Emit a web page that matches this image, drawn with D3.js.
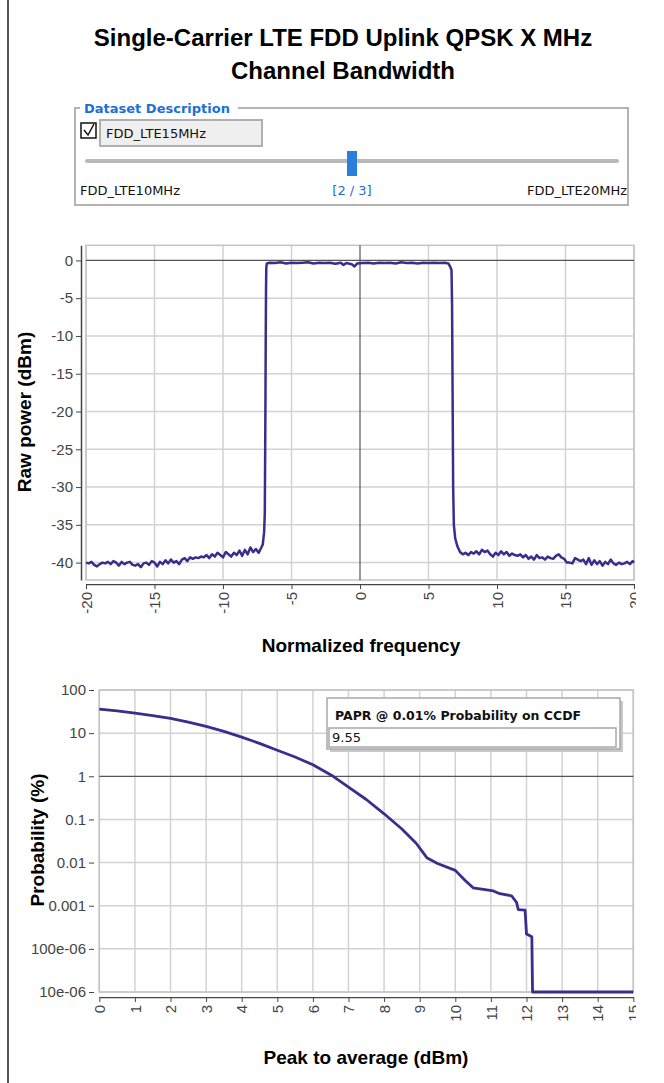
<!DOCTYPE html>
<html>
<head>
<meta charset="utf-8">
<script src="https://cdn.jsdelivr.net/npm/d3@7"></script>
<style>
  body { margin: 0; background: #fff; }
  svg { display: block; }
</style>
</head>
<body>
<div id="view"></div>
<script>
'use strict';

// ---- data ----
var titleLines = ['Single-Carrier LTE FDD Uplink QPSK X MHz', 'Channel Bandwidth']
var datasets = ['FDD_LTE10MHz', 'FDD_LTE15MHz', 'FDD_LTE20MHz']
var currentDataset = 1

var freqTicks = [-20, -15, -10, -5, 0, 5, 10, 15, 20]
var powerTicks = [0, -5, -10, -15, -20, -25, -30, -35, -40]

// spectrum: [normalized frequency, raw power dBm]
var spectrum = [
  [-20, -40.0], [-19.8, -40.1], [-19.6, -39.9], [-19.4, -40.3], [-19.2, -40.5], [-19.0, -40.2],
  [-18.8, -40.0], [-18.6, -40.1], [-18.4, -39.9], [-18.2, -40.2], [-18.0, -39.8], [-17.8, -40.0],
  [-17.6, -40.4], [-17.4, -39.9], [-17.2, -40.2], [-17.0, -40.0], [-16.8, -39.9], [-16.6, -40.3],
  [-16.4, -40.4], [-16.2, -40.2], [-16.0, -40.6], [-15.8, -40.1], [-15.6, -40.0], [-15.4, -40.3],
  [-15.2, -39.8], [-15.0, -40.0], [-14.8, -40.5], [-14.6, -39.9], [-14.4, -40.2], [-14.2, -39.7],
  [-14.0, -40.1], [-13.8, -39.6], [-13.6, -40.0], [-13.4, -39.8], [-13.2, -40.2], [-13.0, -39.6],
  [-12.8, -39.4], [-12.6, -39.8], [-12.4, -39.3], [-12.2, -39.5], [-12.0, -39.3], [-11.8, -39.4],
  [-11.6, -39.2], [-11.4, -39.3], [-11.2, -39.0], [-11.0, -39.4], [-10.8, -38.9], [-10.6, -39.2],
  [-10.4, -38.7], [-10.2, -39.0], [-10.0, -39.3], [-9.8, -38.6], [-9.6, -38.9], [-9.4, -39.2],
  [-9.2, -38.7], [-9.0, -39.0], [-8.8, -38.4], [-8.6, -39.1], [-8.4, -38.3], [-8.2, -38.9],
  [-8.0, -38.0], [-7.8, -38.6], [-7.6, -38.2], [-7.4, -38.7], [-7.2, -38.0], [-7.1, -37.6],
  [-7.0, -36.0], [-6.95, -33.5], [-6.92, -25], [-6.9, -18], [-6.88, -10], [-6.86, -4],
  [-6.84, -1.0], [-6.8, -0.4], [-6.6, -0.3], [-6.2, -0.35], [-5.8, -0.25], [-5.4, -0.4],
  [-5.0, -0.3], [-4.6, -0.35], [-4.2, -0.3], [-3.8, -0.25], [-3.4, -0.4], [-3.0, -0.3],
  [-2.6, -0.35], [-2.2, -0.3], [-1.8, -0.45], [-1.4, -0.3], [-1.2, -0.6], [-1.0, -0.35],
  [-0.6, -0.5], [-0.4, -0.8], [-0.2, -0.4], [0.2, -0.35], [0.6, -0.3], [1.0, -0.4],
  [1.4, -0.3], [1.8, -0.35], [2.2, -0.3], [2.6, -0.4], [3.0, -0.25], [3.4, -0.35],
  [3.8, -0.3], [4.2, -0.4], [4.6, -0.3], [5.0, -0.35], [5.4, -0.3], [5.8, -0.35],
  [6.2, -0.3], [6.45, -0.4], [6.6, -0.9], [6.68, -1.3], [6.72, -6], [6.76, -18],
  [6.8, -30], [6.85, -35], [6.95, -36.8], [7.1, -37.8], [7.3, -38.6], [7.5, -38.9],
  [7.7, -38.7], [7.9, -39.0], [8.1, -38.6], [8.3, -38.8], [8.5, -38.5], [8.7, -38.9],
  [8.9, -38.3], [9.1, -38.6], [9.3, -38.4], [9.5, -38.9], [9.7, -39.2], [9.9, -38.7],
  [10.1, -39.0], [10.3, -38.5], [10.5, -38.9], [10.7, -38.6], [10.9, -39.1], [11.1, -38.8],
  [11.3, -39.0], [11.5, -39.1], [11.7, -38.9], [11.9, -39.3], [12.1, -39.0], [12.3, -39.5],
  [12.5, -39.2], [12.7, -39.6], [12.9, -39.0], [13.1, -39.4], [13.3, -39.3], [13.5, -39.6],
  [13.7, -39.2], [13.9, -39.4], [14.1, -39.5], [14.3, -39.1], [14.5, -38.9], [14.7, -39.3],
  [14.9, -39.5], [15.1, -40.0], [15.3, -40.0], [15.5, -40.1], [15.7, -39.4], [15.9, -39.6],
  [16.1, -39.8], [16.3, -39.6], [16.5, -40.2], [16.7, -39.4], [16.9, -40.3], [17.1, -39.7],
  [17.3, -40.2], [17.5, -39.8], [17.7, -40.4], [17.9, -39.9], [18.1, -40.2], [18.3, -39.6],
  [18.5, -40.1], [18.7, -40.3], [18.9, -40.0], [19.1, -40.2], [19.3, -40.1], [19.5, -39.9],
  [19.7, -40.2], [19.9, -39.8], [20.0, -40.0]
]

var papTicks = [0, 1, 2, 3, 4, 5, 6, 7, 8, 9, 10, 11, 12, 13, 14, 15]
var probTicks = [100, 10, 1, 0.1, 0.01, 0.001, 0.0001, 0.00001]
var probLabels = ['100', '10', '1', '0.1', '0.01', '0.001', '100e-06', '10e-06']

// CCDF: [peak to average dB, probability %]
var ccdf = [
  [0, 36], [0.5, 33], [1, 29], [1.5, 25.5], [2, 22], [2.5, 18], [3, 14.4], [3.5, 11],
  [4, 8.1], [4.5, 5.8], [5, 4.0], [5.5, 2.8], [6, 1.85], [6.57, 1.0], [7, 0.56], [7.5, 0.29],
  [8, 0.135], [8.5, 0.06], [8.9, 0.028], [9.2, 0.013], [9.5, 0.0095], [10, 0.0066],
  [10.27, 0.0039], [10.5, 0.0026], [11.07, 0.0022], [11.25, 0.0019], [11.58, 0.0017],
  [11.72, 0.0012], [11.77, 0.00081], [11.96, 0.00079], [12.0, 0.00022], [12.15, 0.00019],
  [12.17, 0.00001], [15, 0.00001]
]
var paprLabel = 'PAPR @ 0.01% Probability on CCDF'
var paprValue = '9.55'

// ---- drawing ----
var W = 664, H = 1083
var lineColor = '#3b2d8c'
var gridColor = '#d2d2d2'
var uiFont = '"DejaVu Sans", Verdana, sans-serif'
var chartFont = '"Liberation Sans", Arial, sans-serif'

var svg = d3.select('#view').append('svg').attr('width', W).attr('height', H)

svg.append('clipPath').attr('id', 'pageclip')
  .append('rect').attr('x', 0).attr('y', 0).attr('width', 636).attr('height', H)

// left border of the panel
svg.append('line').attr('x1', 8).attr('x2', 8).attr('y1', 0).attr('y2', H)
  .style('stroke', '#555').style('stroke-width', 2)

// title
svg.selectAll('.title').data(titleLines).enter().append('text')
  .attr('class', 'title')
  .attr('x', 343).attr('y', function(d, i) { return 46 + i * 33 })
  .attr('text-anchor', 'middle')
  .style('font-family', chartFont).style('font-weight', 'bold').style('font-size', '24px')
  .text(function(d) { return d })

// dataset description box
var fs = svg.append('g')
fs.append('rect').attr('x', 75).attr('y', 108).attr('width', 553).attr('height', 97)
  .style('fill', 'none').style('stroke', '#b4b4b4').style('stroke-width', 2)
fs.append('rect').attr('x', 80).attr('y', 100).attr('width', 158).attr('height', 16).style('fill', '#fff')
fs.append('text').attr('x', 84).attr('y', 113)
  .style('font-family', uiFont).style('font-weight', 'bold').style('font-size', '13px')
  .style('fill', '#1a6fd8').text('Dataset Description')
fs.append('rect').attr('x', 81).attr('y', 123).attr('width', 15).attr('height', 15)
  .style('fill', '#fff').style('stroke', '#111').style('stroke-width', 1.5)
fs.append('path').attr('d', 'M84,130 L88,135 L94,124')
  .style('fill', 'none').style('stroke', '#111').style('stroke-width', 1.5)
fs.append('rect').attr('x', 100).attr('y', 120).attr('width', 162).attr('height', 26)
  .style('fill', '#efefef').style('stroke', '#b0b0b0').style('stroke-width', 2)
fs.append('text').attr('x', 106).attr('y', 138)
  .style('font-family', uiFont).style('font-size', '13px').style('fill', '#111')
  .text(datasets[currentDataset])

var slider = d3.scaleLinear().domain([0, datasets.length - 1]).range([87, 617])
fs.append('line').attr('x1', slider(0)).attr('x2', slider(datasets.length - 1))
  .attr('y1', 161).attr('y2', 161)
  .style('stroke', '#b9b9b9').style('stroke-width', 4).style('stroke-linecap', 'round')
fs.append('rect').attr('x', slider(currentDataset) - 5).attr('y', 151).attr('width', 10).attr('height', 25)
  .style('fill', '#2a7fdc')
fs.append('text').attr('x', 80).attr('y', 195)
  .style('font-family', uiFont).style('font-size', '13px').style('fill', '#111').text(datasets[0])
fs.append('text').attr('x', 627).attr('y', 195).attr('text-anchor', 'end')
  .style('font-family', uiFont).style('font-size', '13px').style('fill', '#111').text(datasets[2])
fs.append('text').attr('x', slider(currentDataset)).attr('y', 195).attr('text-anchor', 'middle')
  .style('font-family', uiFont).style('font-size', '13px').style('fill', '#1a6fd8')
  .text('[' + (currentDataset + 1) + ' / ' + datasets.length + ']')

function styleAxis(g, size, color) {
  g.selectAll('text').style('font-family', chartFont).style('font-size', size).style('fill', color)
  g.selectAll('line').style('stroke', '#444')
  g.select('.domain').style('stroke', '#444').style('stroke-width', 1.5)
}
var plain = function(d) { return String(d) }

// ---- spectrum chart ----
var x1 = d3.scaleLinear().domain([-20, 20]).range([86, 634])
var y1 = d3.scaleLinear().domain([-42.3, 2]).range([580, 245.3])

var g1 = svg.append('g')
g1.selectAll('.vgrid').data(freqTicks.filter(function(d) { return d !== 0 })).enter().append('line')
  .attr('x1', function(d) { return x1(d) }).attr('x2', function(d) { return x1(d) })
  .attr('y1', y1.range()[1]).attr('y2', y1.range()[0])
  .style('stroke', gridColor).style('stroke-width', 1.5)
g1.selectAll('.hgrid').data(powerTicks.filter(function(d) { return d !== 0 })).enter().append('line')
  .attr('x1', x1.range()[0]).attr('x2', x1.range()[1])
  .attr('y1', function(d) { return y1(d) }).attr('y2', function(d) { return y1(d) })
  .style('stroke', gridColor).style('stroke-width', 1.5)
g1.append('rect').attr('x', x1.range()[0]).attr('y', y1.range()[1])
  .attr('width', x1.range()[1] - x1.range()[0]).attr('height', y1.range()[0] - y1.range()[1])
  .style('fill', 'none').style('stroke', '#c4c4c4').style('stroke-width', 1.5)
g1.append('line').attr('x1', x1(0)).attr('x2', x1(0)).attr('y1', y1.range()[1]).attr('y2', y1.range()[0])
  .style('stroke', '#555').style('stroke-width', 1.2)
g1.append('line').attr('x1', x1.range()[0]).attr('x2', x1.range()[1]).attr('y1', y1(0)).attr('y2', y1(0))
  .style('stroke', '#555').style('stroke-width', 1.2)

g1.append('path').datum(spectrum)
  .attr('d', d3.line().x(function(d) { return x1(d[0]) }).y(function(d) { return y1(d[1]) }))
  .style('fill', 'none').style('stroke', lineColor).style('stroke-width', 2.5)
  .style('stroke-linejoin', 'round')

var ax1 = g1.append('g').attr('transform', 'translate(81,0)')
  .call(d3.axisLeft(y1).tickValues(powerTicks).tickFormat(plain).tickSize(5).tickSizeOuter(0).tickPadding(3))
styleAxis(ax1, '15px', '#444')

var bx1 = g1.append('g').attr('transform', 'translate(0,584)').attr('clip-path', 'url(#pageclip)')
  .call(d3.axisBottom(x1).tickValues(freqTicks).tickFormat(plain).tickSize(5).tickSizeOuter(0))
bx1.selectAll('text').attr('transform', 'rotate(-90)').attr('text-anchor', 'end')
  .attr('x', -8).attr('y', 0).attr('dy', '0.35em')
styleAxis(bx1, '15px', '#444')

svg.append('text').attr('x', 361).attr('y', 652).attr('text-anchor', 'middle')
  .style('font-family', chartFont).style('font-weight', 'bold').style('font-size', '19px')
  .text('Normalized frequency')
svg.append('text').attr('transform', 'translate(31,412) rotate(-90)').attr('text-anchor', 'middle')
  .style('font-family', chartFont).style('font-weight', 'bold').style('font-size', '19px')
  .text('Raw power (dBm)')

// ---- CCDF chart ----
var x2 = d3.scaleLinear().domain([0, 15]).range([99.3, 633.3])
var y2 = d3.scaleLog().domain([1e-5, 100]).range([992, 690])

var g2 = svg.append('g')
g2.selectAll('.vgrid').data(papTicks).enter().append('line')
  .attr('x1', function(d) { return x2(d) }).attr('x2', function(d) { return x2(d) })
  .attr('y1', y2.range()[1]).attr('y2', y2.range()[0])
  .style('stroke', gridColor).style('stroke-width', 1.5)
g2.selectAll('.hgrid').data(probTicks.filter(function(d) { return d !== 1 })).enter().append('line')
  .attr('x1', x2.range()[0]).attr('x2', x2.range()[1])
  .attr('y1', function(d) { return y2(d) }).attr('y2', function(d) { return y2(d) })
  .style('stroke', gridColor).style('stroke-width', 1.5)
g2.append('rect').attr('x', x2.range()[0]).attr('y', y2.range()[1])
  .attr('width', x2.range()[1] - x2.range()[0]).attr('height', y2.range()[0] - y2.range()[1])
  .style('fill', 'none').style('stroke', '#c4c4c4').style('stroke-width', 1.5)
g2.append('line').attr('x1', x2.range()[0]).attr('x2', x2.range()[1]).attr('y1', y2(1)).attr('y2', y2(1))
  .style('stroke', '#555').style('stroke-width', 1.2)

g2.append('path').datum(ccdf)
  .attr('d', d3.line().x(function(d) { return x2(d[0]) }).y(function(d) { return y2(d[1]) }))
  .style('fill', 'none').style('stroke', lineColor).style('stroke-width', 2.8)
  .style('stroke-linejoin', 'round')

var ax2 = g2.append('g').attr('transform', 'translate(94,0)')
  .call(d3.axisLeft(y2).tickValues(probTicks).tickSize(5).tickPadding(3)
    .tickFormat(function(d, i) { return probLabels[i] }))
ax2.select('.domain').remove()
styleAxis(ax2, '15px', '#444')

var bx2 = g2.append('g').attr('transform', 'translate(0,997)').attr('clip-path', 'url(#pageclip)')
  .call(d3.axisBottom(x2).tickValues(papTicks).tickFormat(plain).tickSize(5).tickSizeOuter(0))
bx2.selectAll('text').attr('transform', 'rotate(-90)').attr('text-anchor', 'end')
  .attr('x', -8).attr('y', 0).attr('dy', '0.35em')
styleAxis(bx2, '15px', '#444')

// PAPR readout
var pb = g2.append('g')
pb.append('rect').attr('x', 330).attr('y', 701).attr('width', 293).attr('height', 51).style('fill', '#c8c8c8')
pb.append('rect').attr('x', 327).attr('y', 698).attr('width', 293).attr('height', 51)
  .style('fill', '#fff').style('stroke', '#a8a8a8').style('stroke-width', 1.5)
pb.append('rect').attr('x', 329).attr('y', 728).attr('width', 287).attr('height', 19)
  .style('fill', '#fff').style('stroke', '#a8a8a8').style('stroke-width', 1.5)
pb.append('text').attr('x', 335).attr('y', 720)
  .style('font-family', uiFont).style('font-weight', 'bold').style('font-size', '12.5px').style('fill', '#111')
  .text(paprLabel)
pb.append('text').attr('x', 332).attr('y', 742)
  .style('font-family', uiFont).style('font-size', '13px').style('fill', '#111')
  .text(paprValue)

svg.append('text').attr('x', 366).attr('y', 1064).attr('text-anchor', 'middle')
  .style('font-family', chartFont).style('font-weight', 'bold').style('font-size', '19px')
  .text('Peak to average (dBm)')
svg.append('text').attr('transform', 'translate(44,840) rotate(-90)').attr('text-anchor', 'middle')
  .style('font-family', chartFont).style('font-weight', 'bold').style('font-size', '19px')
  .text('Probability (%)')
</script>
</body>
</html>
